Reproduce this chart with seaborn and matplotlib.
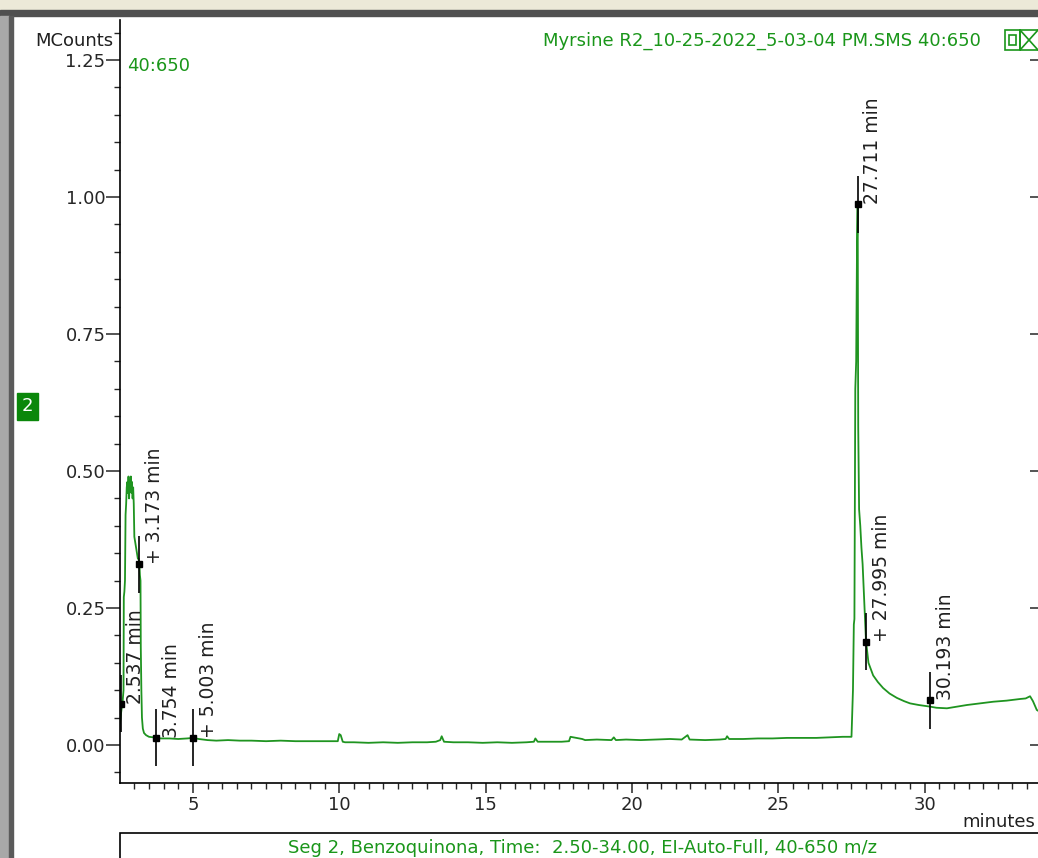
import numpy as np
import pandas as pd
import seaborn as sns
import matplotlib.pyplot as plt
from matplotlib.patches import Rectangle
from matplotlib.ticker import MultipleLocator, FormatStrFormatter

# trace (minutes, MCounts)
# early peak
t_early = [2.51, 2.55, 2.60, 2.63, 2.64, 2.66, 2.68, 2.70, 2.72, 2.74, 2.76, 2.78, 2.80,
           2.82, 2.84, 2.86, 2.88, 2.90, 2.92, 2.94, 2.96, 2.98, 3.00, 3.03, 3.06, 3.09,
           3.12, 3.15, 3.173, 3.19, 3.21, 3.22, 3.24, 3.26, 3.29, 3.33, 3.40, 3.50, 3.65]
c_early = [0.04, 0.06, 0.08, 0.10, 0.27, 0.28, 0.30, 0.42, 0.44, 0.47, 0.48, 0.46, 0.49,
           0.45, 0.48, 0.47, 0.49, 0.46, 0.48, 0.45, 0.47, 0.44, 0.38, 0.37, 0.36, 0.35,
           0.34, 0.34, 0.33, 0.31, 0.30, 0.18, 0.10, 0.05, 0.03, 0.022, 0.018, 0.015, 0.014]

# baseline
t_base = [3.754, 3.9, 4.2, 4.5, 4.8, 5.003, 5.2, 5.5, 5.8, 6.2, 6.6, 7.0, 7.5, 8.0, 8.5,
          9.0, 9.5, 9.95, 10.0, 10.05, 10.12, 10.2, 10.5, 11.0, 11.5, 12.0, 12.5, 13.0,
          13.3, 13.45, 13.5, 13.58, 13.9, 14.4, 14.9, 15.4, 15.9, 16.4, 16.65, 16.7, 16.78,
          17.2, 17.6, 17.85, 17.9, 18.0, 18.3, 18.4, 18.8, 19.3, 19.38, 19.45, 19.8, 20.3,
          20.8, 21.3, 21.7, 21.85, 21.9, 21.97, 22.5, 23.0, 23.2, 23.25, 23.32, 23.8, 24.3,
          24.8, 25.3, 25.8, 26.3, 26.8, 27.2, 27.5]
c_base = [0.013, 0.012, 0.012, 0.011, 0.012, 0.013, 0.011, 0.009, 0.008, 0.009, 0.008,
          0.008, 0.007, 0.008, 0.007, 0.007, 0.007, 0.007, 0.020, 0.018, 0.006, 0.005,
          0.005, 0.004, 0.005, 0.004, 0.005, 0.005, 0.006, 0.009, 0.016, 0.006, 0.005,
          0.005, 0.004, 0.005, 0.004, 0.005, 0.006, 0.012, 0.006, 0.006, 0.006, 0.007,
          0.015, 0.014, 0.011, 0.009, 0.010, 0.009, 0.014, 0.009, 0.010, 0.009, 0.010,
          0.011, 0.010, 0.016, 0.018, 0.010, 0.009, 0.010, 0.011, 0.016, 0.011, 0.011,
          0.012, 0.012, 0.013, 0.013, 0.013, 0.014, 0.015, 0.015]

# main peak and tail
t_main = [27.55, 27.58, 27.60, 27.63, 27.66, 27.69, 27.711, 27.73, 27.76, 27.80, 27.84,
          27.88, 27.92, 27.95, 27.995, 28.08, 28.24, 28.4, 28.58, 28.8, 29.05, 29.3, 29.5,
          29.8, 30.07, 30.193, 30.4, 30.76, 31.1, 31.44, 31.9, 32.34, 32.8, 33.26, 33.45,
          33.6, 33.7, 33.83, 33.95]
c_main = [0.10, 0.22, 0.23, 0.65, 0.70, 0.92, 0.99, 0.58, 0.43, 0.40, 0.36, 0.33, 0.28,
          0.24, 0.19, 0.15, 0.127, 0.115, 0.104, 0.094, 0.086, 0.08, 0.076, 0.073, 0.071,
          0.070, 0.068, 0.067, 0.070, 0.073, 0.076, 0.079, 0.081, 0.084, 0.085, 0.089,
          0.080, 0.064, 0.060]

# peak markers
mark_times = [2.537, 3.173, 3.754, 5.003, 27.711, 27.995, 30.193]
mark_counts = [0.075, 0.33, 0.013, 0.013, 0.987, 0.188, 0.082]
mark_labels = ["2.537 min", "+ 3.173 min", "3.754 min", "+ 5.003 min",
               "27.711 min", "+ 27.995 min", "30.193 min"]

df = pd.DataFrame({'time': t_early + t_base + t_main,
                   'counts': c_early + c_base + c_main})

sns.set_style('white')
plt.rcParams['font.family'] = ['DejaVu Sans']

W, H = 1038, 858
fig = plt.figure(figsize=(W / 100, H / 100), dpi=100)

def fx(x):
    return x / W

def fy(y):
    return 1 - y / H

green = '#1a961a'
line_green = '#1f9420'
fs = 13

# window frame bits
fig.patches.append(Rectangle((0, fy(10)), 1, 10 / H, transform=fig.transFigure,
                             color='#ece9d8', zorder=0))
fig.patches.append(Rectangle((0, fy(16)), 1, 6 / H, transform=fig.transFigure,
                             color='#505050', zorder=0))
fig.patches.append(Rectangle((0, 0), fx(9), fy(16), transform=fig.transFigure,
                             color='#a8a8a8', zorder=0))
fig.patches.append(Rectangle((fx(9), 0), fx(4), fy(16), transform=fig.transFigure,
                             color='#5a5a5a', zorder=0))

ax = fig.add_axes([fx(120), fy(783), fx(1040 - 120), (783 - 20) / H])
ax.set_facecolor('none')

sns.lineplot(data=df, x='time', y='counts', ax=ax, color=line_green, lw=1.3,
             estimator=None, sort=False)

ax.vlines(mark_times, np.array(mark_counts) - 0.052, np.array(mark_counts) + 0.052,
          color='black', lw=1.2, zorder=3)
ax.plot(mark_times, mark_counts, 's', color='black', ms=4, zorder=4)
for t, c, lab in zip(mark_times, mark_counts, mark_labels):
    ax.annotate(lab, (t, c), xytext=(4, 0), textcoords='offset points',
                rotation=90, rotation_mode='anchor', ha='left', va='top',
                fontsize=13.5, color='#202020')

ax.set_xlim(2.51, 33.94)
ax.set_ylim(-0.0693, 1.323)
ax.set_xlabel('')
ax.set_ylabel('')

for s in ['top', 'right']:
    ax.spines[s].set_visible(False)
for s in ['left', 'bottom']:
    ax.spines[s].set_color('black')
    ax.spines[s].set_linewidth(1.2)

ax.yaxis.set_major_locator(MultipleLocator(0.25))
ax.yaxis.set_minor_locator(MultipleLocator(0.05))
ax.yaxis.set_major_formatter(FormatStrFormatter('%.2f'))
ax.xaxis.set_major_locator(MultipleLocator(5))
ax.xaxis.set_minor_locator(MultipleLocator(0.5))
ax.tick_params(axis='y', which='major', direction='out', length=10, width=1.1,
               pad=0.5, labelsize=fs, left=True)
ax.tick_params(axis='y', which='minor', direction='out', length=4.5, width=1.0, left=True)
ax.tick_params(axis='x', which='major', direction='out', length=7, width=1.1,
               pad=2, labelsize=fs, bottom=True)
ax.tick_params(axis='x', which='minor', direction='out', length=4, width=1.0, bottom=True)

# right-hand dotted scale
ax2 = ax.twinx()
ax2.set_ylim(ax.get_ylim())
for s in ax2.spines.values():
    s.set_visible(False)
ax2.yaxis.set_major_locator(MultipleLocator(0.25))
ax2.yaxis.set_minor_locator(MultipleLocator(0.025))
ax2.tick_params(axis='y', which='major', direction='in', length=7, width=1.1,
                labelright=False, right=True)
ax2.tick_params(axis='y', which='minor', direction='in', length=1.5, width=1.2, right=True)

# texts
fig.text(fx(113), fy(41), 'MCounts', ha='right', va='center', fontsize=fs, color='#202020')
fig.text(fx(127), fy(66), '40:650', ha='left', va='center', fontsize=fs, color=green)
fig.text(fx(981), fy(41), 'Myrsine R2_10-25-2022_5-03-04 PM.SMS 40:650',
         ha='right', va='center', fontsize=fs, color=green)
fig.text(fx(1035), fy(822), 'minutes', ha='right', va='center', fontsize=fs, color='#202020')

# side badge
fig.patches.append(Rectangle((fx(17), fy(420)), fx(21), 27 / H, transform=fig.transFigure,
                             color='#0a870a', zorder=2))
fig.text(fx(27.5), fy(406), '2', ha='center', va='center', fontsize=fs, color='white')

# corner icons
fig.patches.append(Rectangle((fx(1005), fy(50)), fx(15), 20 / H, transform=fig.transFigure,
                             fill=False, ec=green, lw=1.2))
fig.patches.append(Rectangle((fx(1009), fy(45)), fx(7), 10 / H, transform=fig.transFigure,
                             fill=False, ec=green, lw=1.2))
fig.patches.append(Rectangle((fx(1020), fy(50)), fx(20), 20 / H, transform=fig.transFigure,
                             fill=False, ec=green, lw=1.2))
fig.lines.append(plt.Line2D([fx(1020), fx(1038)], [fy(30), fy(50)],
                            transform=fig.transFigure, color=green, lw=1.2))
fig.lines.append(plt.Line2D([fx(1020), fx(1038)], [fy(50), fy(30)],
                            transform=fig.transFigure, color=green, lw=1.2))

# segment info box
fig.patches.append(Rectangle((fx(120), fy(870)), fx(930), 37 / H, transform=fig.transFigure,
                             fill=True, fc='white', ec='black', lw=1.2))
fig.text(fx(582), fy(848), 'Seg 2, Benzoquinona, Time:  2.50-34.00, EI-Auto-Full, 40-650 m/z',
         ha='center', va='center', fontsize=fs, color=green)

fig.savefig('out.png', dpi=100)
